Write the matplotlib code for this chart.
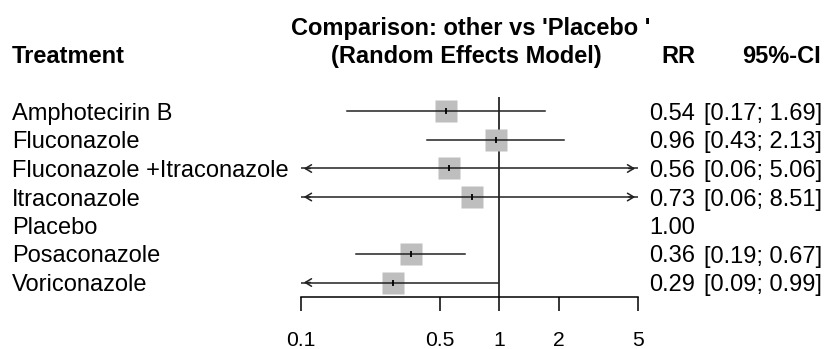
import numpy as np
import matplotlib
matplotlib.use("Agg")
import matplotlib.pyplot as plt
from matplotlib.patches import FancyArrowPatch

plt.rcParams['font.family'] = ['Liberation Sans', 'DejaVu Sans']

# Network meta-analysis results: risk ratio vs placebo (random effects)
treatments = ["Amphotecirin B", "Fluconazole", "Fluconazole +Itraconazole",
              "Itraconazole", "Placebo", "Posaconazole", "Voriconazole"]
rr = [0.54, 0.96, 0.56, 0.73, 1.00, 0.36, 0.29]
ci_lower = [0.17, 0.43, 0.06, 0.06, np.nan, 0.19, 0.09]
ci_upper = [1.69, 2.13, 5.06, 8.51, np.nan, 0.67, 0.99]
x_ticks = [0.1, 0.5, 1, 2, 5]
x_tick_labels = ["0.1", "0.5", "1", "2", "5"]

W, H = 828, 349
DPI = 100
fig = plt.figure(figsize=(W / DPI, H / DPI), dpi=DPI)

FS = 17       # body text size
FS_TICK = 15.2
LW = 1.1
SQ_COLOR = "#bebebe"
LINE_COLOR = "#222222"


def fx(px):
    return px / W


def fy(py):
    return 1 - py / H


# forest panel
x0, x1 = 301, 638
y_top, y_bot = 96.7, 296.7
row0, row_step = 111.5, 28.5
ax = fig.add_axes([fx(x0), fy(y_bot), (x1 - x0) / W, (y_bot - y_top) / H])
ax.set_xscale("log")
xmin, xmax = 0.1, 5
ax.set_xlim(xmin, xmax)
ax.set_ylim((y_bot - row0) / row_step, (y_top - row0) / row_step)
for s in ["top", "right", "left"]:
    ax.spines[s].set_visible(False)
ax.spines["bottom"].set_linewidth(LW)
ax.set_yticks([])
ax.set_xticks(x_ticks)
ax.set_xticklabels(x_tick_labels)
ax.xaxis.set_minor_locator(matplotlib.ticker.NullLocator())
ax.tick_params(axis="x", direction="out", length=10, width=LW,
               labelsize=FS_TICK, pad=15)
ax.patch.set_visible(False)

# reference line at RR = 1
ax.axvline(1, color="black", lw=LW, zorder=1)

arrow_style = "->,head_length=0.45,head_width=0.27"
for i, (est, lo, hi) in enumerate(zip(rr, ci_lower, ci_upper)):
    if np.isnan(lo):
        continue
    lo_c = max(lo, xmin)
    hi_c = min(hi, xmax)
    ax.plot([est], [i], marker="s", ms=15.8, color=SQ_COLOR, mec="none", zorder=2)
    ax.plot([lo_c, hi_c], [i, i], color=LINE_COLOR, lw=LW, zorder=3)
    if lo < xmin:
        ax.add_patch(FancyArrowPatch((xmin * 1.15, i), (xmin, i), arrowstyle=arrow_style,
                                     mutation_scale=10, lw=LW, color=LINE_COLOR, zorder=3))
    if hi > xmax:
        ax.add_patch(FancyArrowPatch((xmax / 1.15, i), (xmax, i), arrowstyle=arrow_style,
                                     mutation_scale=10, lw=LW, color=LINE_COLOR, zorder=3))
    ax.plot([est], [i], marker="|", ms=5, mew=1.3, color="black", zorder=4)

# headers
fig.text(fx(12), fy(63), "Treatment", fontsize=FS, fontweight="bold", va="baseline", ha="left")
fig.text(fx(471), fy(35), "Comparison: other vs 'Placebo '", fontsize=FS, fontweight="bold",
         va="baseline", ha="center")
fig.text(fx(466), fy(63), "(Random Effects Model)", fontsize=FS, fontweight="bold",
         va="baseline", ha="center")
fig.text(fx(695), fy(63), "RR", fontsize=FS, fontweight="bold", va="baseline", ha="right")
fig.text(fx(821), fy(63), "95%-CI", fontsize=FS, fontweight="bold", va="baseline", ha="right")

# rows
cap_half = 8.5
for i, name in enumerate(treatments):
    yb = row0 + i * row_step + cap_half
    fig.text(fx(12), fy(yb), name, fontsize=FS, va="baseline", ha="left")
    fig.text(fx(695), fy(yb), f"{rr[i]:.2f}", fontsize=FS, va="baseline", ha="right")
    if not np.isnan(ci_lower[i]):
        fig.text(fx(822), fy(yb), f"[{ci_lower[i]:.2f}; {ci_upper[i]:.2f}]", fontsize=FS,
                 va="baseline", ha="right")

fig.savefig("out.png", dpi=DPI)
